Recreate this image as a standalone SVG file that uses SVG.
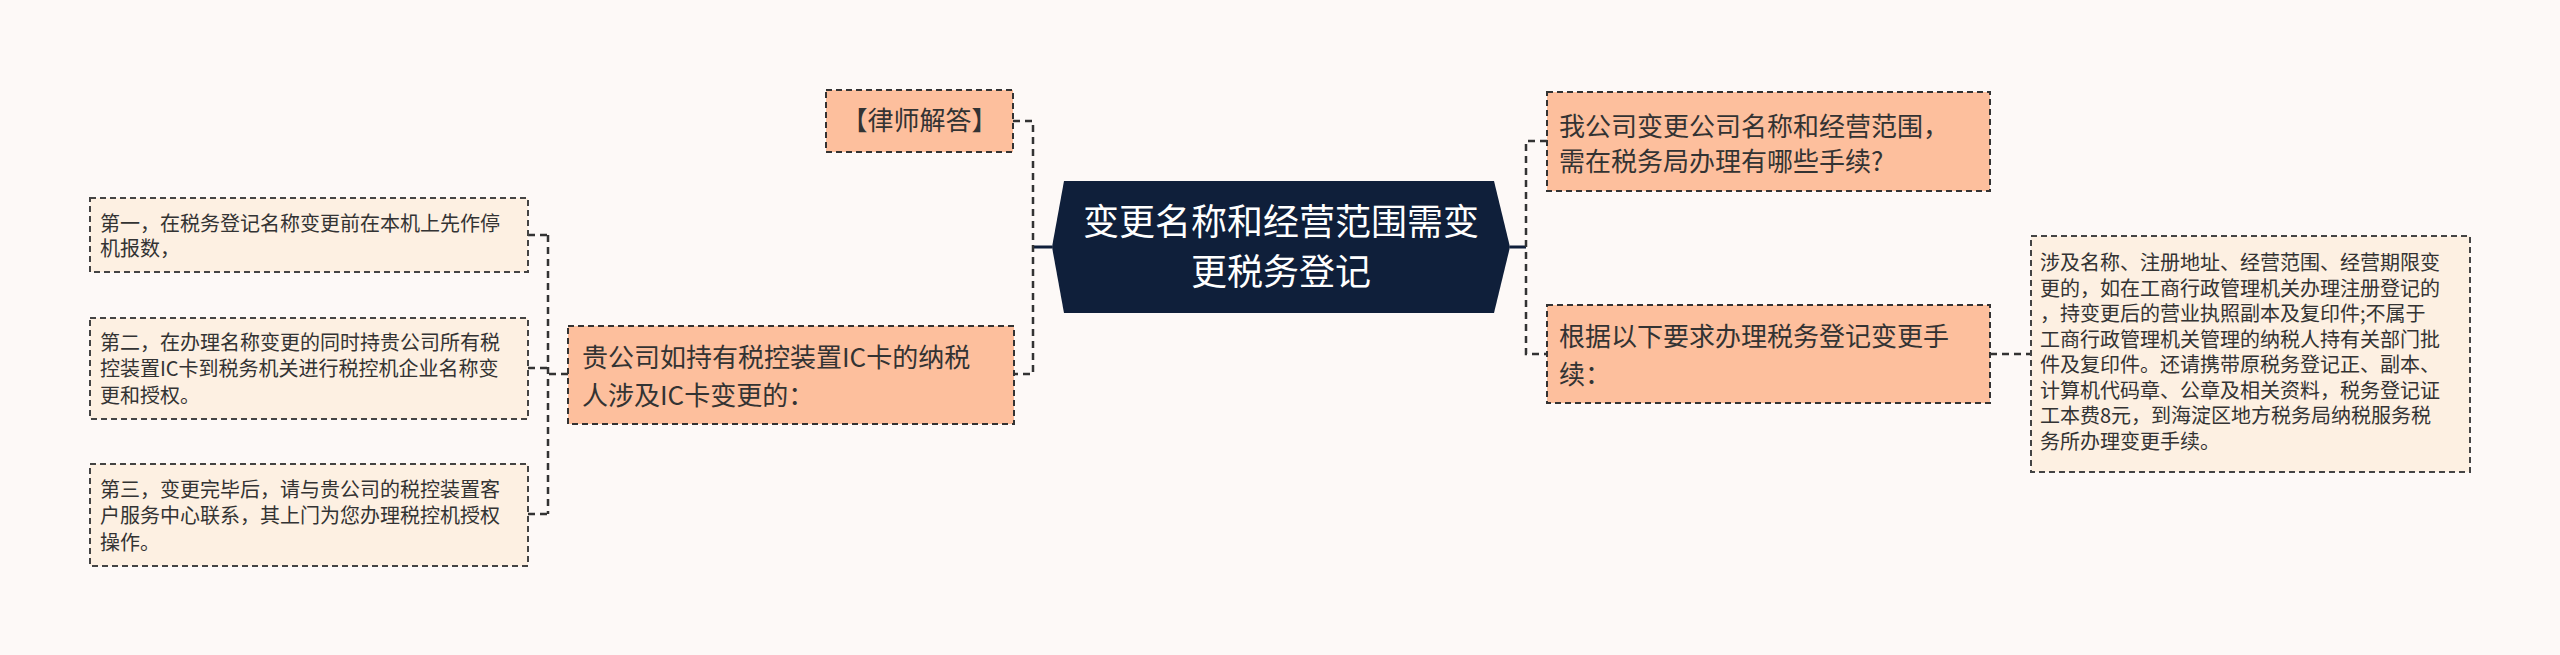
<svg xmlns="http://www.w3.org/2000/svg" width="2560" height="655" viewBox="0 0 2560 655">
<style>
.bg{fill:#fdf9f7}
.l1{fill:#fdbf9d;stroke:#333;stroke-width:2;stroke-dasharray:6,4}
.lf{fill:#fdf0e2;stroke:#444;stroke-width:2;stroke-dasharray:6,4}
.c{fill:none;stroke:#333;stroke-width:2.5;stroke-dasharray:7,5}
.cs{fill:none;stroke:#0f1f3a;stroke-width:3}
text{font-family:"Noto Sans CJK SC","Liberation Sans",sans-serif;fill:#333}
.t1{font-size:26px}
.tl{font-size:20px}
.tc{font-size:36px;fill:#fff;text-anchor:middle}
</style>
<rect class="bg" width="2560" height="655"/>
<g id="connectors">
<path class="cs" d="M1033,247 H1052 M1510,247 H1526"/>
<path class="c" d="M1013,121 H1033 V374 H1014"/>
<path class="c" d="M568,374 H548 M548,235 V514 M528,235 H548 M528,368 H548 M528,514 H548"/>
<path class="c" d="M1547,141 H1526 V354 H1547"/>
<path class="c" d="M1990,354 H2031"/>
</g>
<g id="center">
<polygon points="1052,247 1064,181 1494,181 1510,247 1494,313 1064,313" fill="#0f1f3a"/>
<text class="tc" x="1281" y="235">变更名称和经营范围需变</text>
<text class="tc" x="1281" y="285">更税务登记</text>
</g>
<g id="lawyer">
<rect class="l1" x="826" y="90" width="187" height="62"/>
<text class="t1" x="919.5" y="130" text-anchor="middle">【律师解答】</text>
</g>
<g id="ic">
<rect class="l1" x="568" y="326" width="446" height="98"/>
<text class="t1" x="582" y="367">贵公司如持有税控装置IC卡的纳税</text>
<text class="t1" x="582" y="405">人涉及IC卡变更的：</text>
</g>
<g id="leaf1">
<rect class="lf" x="90" y="198" width="438" height="74"/>
<text class="tl" x="100" y="231">第一，在税务登记名称变更前在本机上先作停</text>
<text class="tl" x="100" y="256">机报数，</text>
</g>
<g id="leaf2">
<rect class="lf" x="90" y="318" width="438" height="101"/>
<text class="tl" x="100" y="350">第二，在办理名称变更的同时持贵公司所有税</text>
<text class="tl" x="100" y="376">控装置IC卡到税务机关进行税控机企业名称变</text>
<text class="tl" x="100" y="403">更和授权。</text>
</g>
<g id="leaf3">
<rect class="lf" x="90" y="464" width="438" height="102"/>
<text class="tl" x="100" y="497">第三，变更完毕后，请与贵公司的税控装置客</text>
<text class="tl" x="100" y="523">户服务中心联系，其上门为您办理税控机授权</text>
<text class="tl" x="100" y="550">操作。</text>
</g>
<g id="question">
<rect class="l1" x="1547" y="92" width="443" height="99"/>
<text class="t1" x="1559" y="136">我公司变更公司名称和经营范围，</text>
<text class="t1" x="1559" y="171">需在税务局办理有哪些手续?</text>
</g>
<g id="requirement">
<rect class="l1" x="1547" y="305" width="443" height="98"/>
<text class="t1" x="1559" y="346">根据以下要求办理税务登记变更手</text>
<text class="t1" x="1559" y="384">续：</text>
</g>
<g id="leaf4">
<rect class="lf" x="2031" y="236" width="439" height="236"/>
<text class="tl" x="2040" y="270">涉及名称、注册地址、经营范围、经营期限变</text>
<text class="tl" x="2040" y="295.5">更的，如在工商行政管理机关办理注册登记的</text>
<text class="tl" x="2040" y="321">，持变更后的营业执照副本及复印件;不属于</text>
<text class="tl" x="2040" y="346.5">工商行政管理机关管理的纳税人持有关部门批</text>
<text class="tl" x="2040" y="372">件及复印件。还请携带原税务登记正、副本、</text>
<text class="tl" x="2040" y="397.5">计算机代码章、公章及相关资料，税务登记证</text>
<text class="tl" x="2040" y="423">工本费8元，到海淀区地方税务局纳税服务税</text>
<text class="tl" x="2040" y="448.5">务所办理变更手续。</text>
</g>
</svg>
